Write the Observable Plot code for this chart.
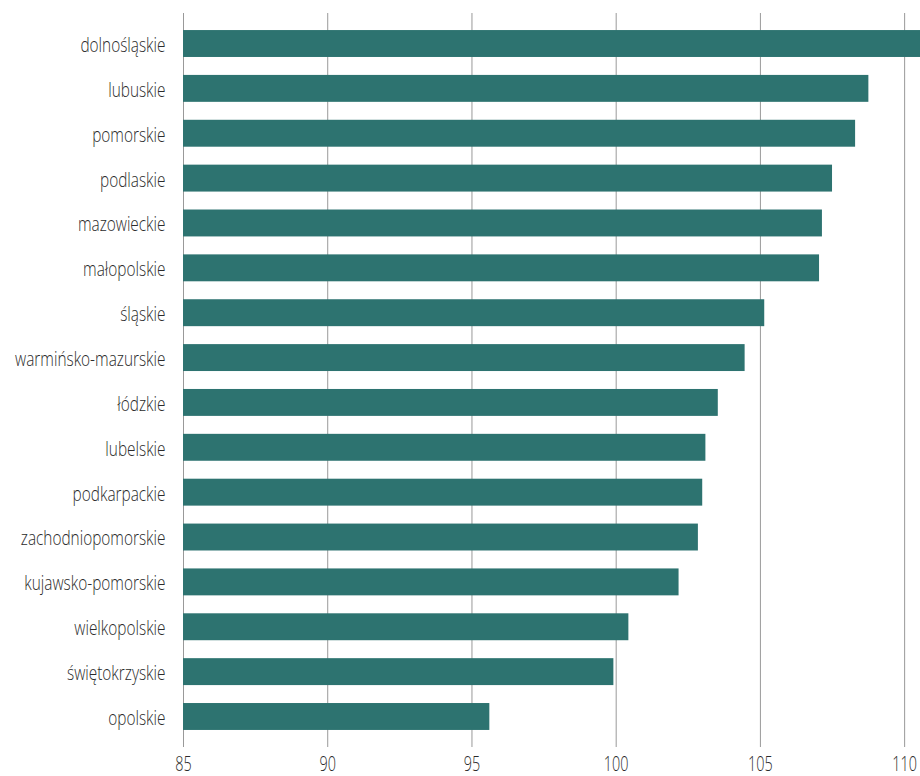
<!DOCTYPE html>
<html>
<head>
<meta charset="utf-8">
<script src="https://cdn.jsdelivr.net/npm/d3@7"></script>
<script src="https://cdn.jsdelivr.net/npm/@observablehq/plot@0.6"></script>
<style>
  html, body { margin: 0; padding: 0; background: #fff; }
  #chart svg { display: block; }
</style>
</head>
<body>
<div id="chart"></div>
<script>
const regions = [
  "dolnośląskie", "lubuskie", "pomorskie", "podlaskie", "mazowieckie",
  "małopolskie", "śląskie", "warmińsko-mazurskie", "łódzkie", "lubelskie",
  "podkarpackie", "zachodniopomorskie", "kujawsko-pomorskie", "wielkopolskie",
  "świętokrzyskie", "opolskie"
];
const values = [
  111.0, 108.76, 108.3, 107.5, 107.15,
  107.05, 105.15, 104.47, 103.54, 103.11,
  103.0, 102.85, 102.18, 100.44,
  99.92, 95.62
];
const xTicks = [85, 90, 95, 100, 105, 110];

const data = regions.map((name, i) => ({name, value: values[i]}));

const chart = Plot.plot({
  width: 920,
  height: 776,
  marginLeft: 183,
  marginRight: 0,
  marginTop: 13,
  marginBottom: 29,
  style: {fontFamily: "'Open Sans', sans-serif", fontWeight: 300, color: "#2b2b2b", background: "#fff"},
  x: {domain: [85, 110.55], ticks: xTicks, label: null},
  y: {domain: regions, paddingInner: 0.4, paddingOuter: 0.38, round: false, label: null},
  marks: [
    Plot.gridX(xTicks, {stroke: "#999", strokeOpacity: 1, strokeWidth: 1}),
    Plot.barX(data, {x1: 85, x2: "value", y: "name", fill: "#2d7370", clip: true}),
    Plot.axisX({ticks: xTicks, tickSize: 0, tickPadding: 9, fontSize: 20, label: null}),
    Plot.axisY({tickSize: 0, tickPadding: 18, fontSize: 20, dy: 1.5, label: null})
  ]
});
document.getElementById("chart").appendChild(chart);

// condense the axis labels horizontally around their anchor points
function condense(selector, s) {
  chart.querySelectorAll(selector).forEach(t => {
    let x = parseFloat(t.getAttribute("x"));
    if (!isFinite(x)) x = 0;
    const tr = t.getAttribute("transform") || "";
    t.setAttribute("transform", `${tr} translate(${x},0) scale(${s},1) translate(${-x},0)`);
  });
}
condense('g[aria-label="y-axis tick label"] text', 0.77);
condense('g[aria-label="x-axis tick label"] text', 0.72);
</script>
</body>
</html>
